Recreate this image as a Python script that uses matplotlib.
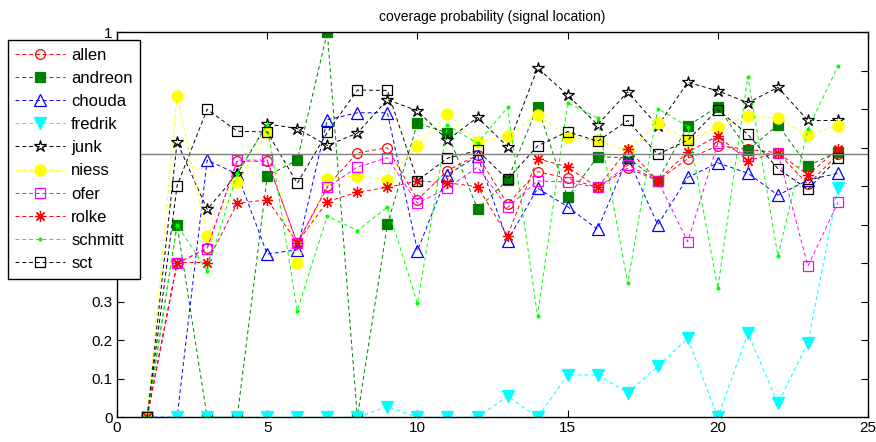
import matplotlib
matplotlib.use('Agg')
import matplotlib.pyplot as plt
from matplotlib.ticker import FormatStrFormatter, MultipleLocator

plt.rcParams['font.family'] = ['Liberation Sans', 'DejaVu Sans']

x = list(range(1, 25))

allen = [0, 0.40, 0.44, 0.665, 0.665, 0.452, 0.60, 0.687, 0.70, 0.565, 0.641, 0.681,
         0.554, 0.638, 0.621, 0.597, 0.647, 0.615, 0.672, 0.705, 0.696, 0.687, 0.605, 0.683]
andreon = [0, 0.50, 0, 0, 0.627, 0.668, 1.0, 0, 0.501, 0.764, 0.739, 0.541,
           0.616, 0.807, 0.571, 0.677, 0.674, 0.615, 0.757, 0.807, 0.694, 0.759, 0.653, 0.69]
chouda = [0, 0, 0.668, 0.632, 0.424, 0.435, 0.773, 0.791, 0.791, 0.433, 0.630, 0.679,
          0.459, 0.595, 0.547, 0.488, 0.675, 0.50, 0.623, 0.661, 0.634, 0.577, 0.616, 0.634]
fredrik = [0, 0, 0, 0, 0, 0, 0, 0, 0.028, 0, 0, 0,
           0.055, 0, 0.11, 0.11, 0.064, 0.132, 0.205, 0, 0.218, 0.036, 0.194, 0.595]
junk = [0, 0.715, 0.54, 0.632, 0.762, 0.75, 0.706, 0.738, 0.825, 0.796, 0.72, 0.779,
        0.703, 0.907, 0.837, 0.76, 0.845, 0.757, 0.87, 0.848, 0.817, 0.857, 0.771, 0.771]
niess = [0, 0.835, 0.471, 0.61, 0.74, 0.40, 0.618, 0.628, 0.617, 0.705, 0.788, 0.715,
         0.731, 0.786, 0.727, 0.719, 0.694, 0.764, 0.72, 0.754, 0.783, 0.777, 0.733, 0.757]
ofer = [0, 0.40, 0.438, 0.668, 0.668, 0.452, 0.597, 0.65, 0.674, 0.556, 0.595, 0.65,
        0.545, 0.614, 0.611, 0.597, 0.655, 0.615, 0.456, 0.713, 0.68, 0.687, 0.393, 0.558]
rolke = [0, 0.402, 0.402, 0.556, 0.565, 0.454, 0.56, 0.585, 0.597, 0.614, 0.609, 0.599,
         0.472, 0.672, 0.65, 0.597, 0.696, 0.615, 0.689, 0.731, 0.667, 0.687, 0.63, 0.697]
schmitt = [0, 0.50, 0.381, 0.634, 0.76, 0.277, 0.523, 0.485, 0.546, 0.296, 0.758, 0.712,
           0.805, 0.263, 0.817, 0.777, 0.348, 0.802, 0.755, 0.335, 0.885, 0.419, 0.748, 0.913]
sct = [0, 0.602, 0.80, 0.743, 0.741, 0.608, 0.74, 0.85, 0.849, 0.615, 0.673, 0.693,
       0.618, 0.705, 0.742, 0.717, 0.771, 0.683, 0.72, 0.799, 0.735, 0.646, 0.592, 0.673]

ref_level = 0.6827  # 1 sigma coverage

# name, data, color, marker, filled, markersize
series = [
    ('allen', allen, (1, 0, 0), 'o', False, 7),
    ('andreon', andreon, (0, 0.5, 0), 's', True, 6.5),
    ('chouda', chouda, (0, 0, 1), '^', False, 8),
    ('fredrik', fredrik, (0, 1, 1), 'v', True, 8),
    ('junk', junk, (0, 0, 0), '*', False, 9),
    ('niess', niess, (1, 1, 0), 'o', True, 8),
    ('ofer', ofer, (1, 0, 1), 's', False, 6.5),
    ('rolke', rolke, (1, 0, 0), (8, 2, 0), False, 8),
    ('schmitt', schmitt, (0, 1, 0), '.', True, 4),
    ('sct', sct, (0, 0, 0), 's', False, 6.5),
]

fig = plt.figure(figsize=(8.76, 4.42), dpi=100)
ax = fig.add_axes([0.1336, 0.0559, 0.8573, 0.8710])

for name, vals, col, mk, filled, ms in series:
    ax.plot(x, vals, linestyle=(0, (4, 3)), linewidth=0.7, color=col,
            marker=mk, markersize=ms, markeredgewidth=0.9,
            markerfacecolor=col if filled else 'none', markeredgecolor=col,
            label=name)

ax.axhline(ref_level, color=(0.5, 0.5, 0.5), linewidth=1.0)

ax.set_xlim(0, 25)
ax.set_ylim(0, 1)
ax.xaxis.set_major_locator(MultipleLocator(5))
ax.yaxis.set_major_locator(MultipleLocator(0.1))
ax.yaxis.set_major_formatter(FormatStrFormatter('%g'))
ax.xaxis.set_major_formatter(FormatStrFormatter('%g'))
ax.tick_params(direction='in', top=True, right=True, length=5, width=0.8,
               labelsize=11, pad=3)
for sp in ax.spines.values():
    sp.set_linewidth(1.0)

ax.set_title('coverage probability (signal location)', fontsize=10, pad=8)

# legend sits over the y tick labels, like the original
leg = ax.legend(loc='upper left', bbox_to_anchor=(0.009, 0.9095),
                bbox_transform=fig.transFigure, borderaxespad=0,
                fontsize=12, numpoints=1, handlelength=3.0, handletextpad=0.35,
                labelspacing=0.49, borderpad=0.45, fancybox=False,
                framealpha=1, edgecolor='black')
leg.get_frame().set_linewidth(1.0)

fig.savefig('out.png', dpi=100)
